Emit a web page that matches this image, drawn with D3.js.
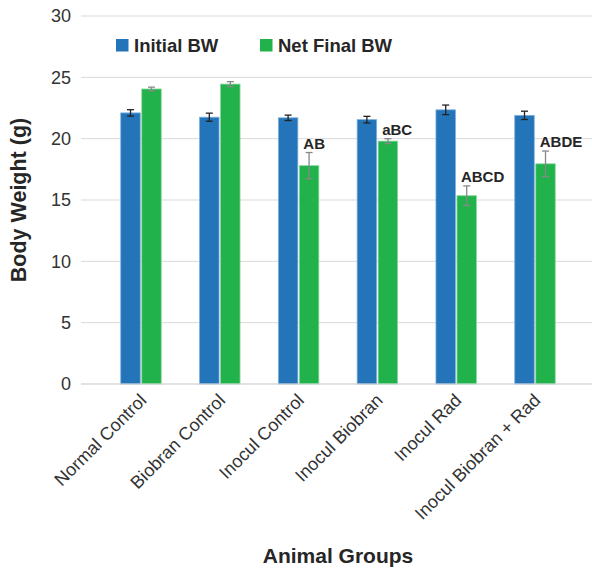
<!DOCTYPE html>
<html>
<head>
<meta charset="utf-8">
<script src="https://cdn.jsdelivr.net/npm/d3@7"></script>
<style>
  body { margin: 0; background: #fff; }
  text { font-family: "Liberation Sans", Arial, sans-serif; }
</style>
</head>
<body>
<div id="app"></div>
<script>
// data
const groups = ['Normal Control', 'Biobran Control', 'Inocul Control', 'Inocul Biobran', 'Inocul Rad', 'Inocul Biobran + Rad'];
const seriesNames = ['Initial BW', 'Net Final BW'];
const initialBW = [22.1, 21.75, 21.7, 21.55, 22.35, 21.9];
const initialErr = [0.26, 0.33, 0.22, 0.27, 0.39, 0.34];
const finalBW = [24.05, 24.45, 17.8, 19.8, 15.35, 17.95];
const finalErr = [0.15, 0.2, 1.07, 0.2, 0.8, 1.04];
const sigLabels = ['', '', 'AB', 'aBC', 'ABCD', 'ABDE'];
const yTicks = [0, 5, 10, 15, 20, 25, 30];

const width = 592, height = 571;
const colors = ['#2474b9', '#22b24c'];
const errColors = ['#222', '#888'];

const svg = d3.select('#app').append('svg')
  .attr('width', width)
  .attr('height', height);

const x = d3.scaleBand().domain(groups).range([101.6, 574.4]);
const y = d3.scaleLinear().domain([0, 30]).range([384, 16]);

// gridlines
svg.append('g')
  .selectAll('line')
  .data(yTicks)
  .join('line')
  .attr('x1', 81).attr('x2', 592)
  .attr('y1', d => y(d)).attr('y2', d => y(d))
  .attr('stroke', '#d9d9d9')
  .attr('stroke-width', 1);

// y axis labels
const yAxis = svg.append('g')
  .attr('transform', 'translate(81,0)')
  .call(d3.axisLeft(y).tickValues(yTicks).tickSize(0).tickPadding(10));
yAxis.select('.domain').remove();
yAxis.selectAll('text')
  .attr('font-size', 18)
  .attr('fill', '#333');

// bars
const barW = 19.5, gap = 1.5;
const rows = groups.map((g, i) => ({
  group: g,
  vals: [
    { s: 0, v: initialBW[i], e: initialErr[i] },
    { s: 1, v: finalBW[i], e: finalErr[i] }
  ],
  label: sigLabels[i]
}));

const gGroup = svg.append('g')
  .selectAll('g')
  .data(rows)
  .join('g')
  .attr('transform', d => `translate(${x(d.group) + x.bandwidth() / 2},0)`);

const bx = s => s === 0 ? -barW - gap / 2 : gap / 2;

gGroup.selectAll('rect')
  .data(d => d.vals)
  .join('rect')
  .attr('x', d => bx(d.s))
  .attr('y', d => y(d.v))
  .attr('width', barW)
  .attr('height', d => y(0) - y(d.v))
  .attr('fill', d => colors[d.s])
  .attr('stroke', d => d.s === 0 ? '#7fb0dc' : '#8ad7a0')
  .attr('stroke-width', 0.8);

// error bars
const eb = gGroup.selectAll('g.err')
  .data(d => d.vals)
  .join('g')
  .attr('class', 'err')
  .attr('stroke', d => errColors[d.s])
  .attr('stroke-width', 1.3);
eb.append('line')
  .attr('x1', d => bx(d.s) + barW / 2).attr('x2', d => bx(d.s) + barW / 2)
  .attr('y1', d => y(d.v + d.e)).attr('y2', d => y(d.v - d.e));
eb.append('line')
  .attr('x1', d => bx(d.s) + barW / 2 - 3.5).attr('x2', d => bx(d.s) + barW / 2 + 3.5)
  .attr('y1', d => y(d.v + d.e)).attr('y2', d => y(d.v + d.e));
eb.append('line')
  .attr('x1', d => bx(d.s) + barW / 2 - 3.5).attr('x2', d => bx(d.s) + barW / 2 + 3.5)
  .attr('y1', d => y(d.v - d.e)).attr('y2', d => y(d.v - d.e));

// significance labels
gGroup.append('text')
  .text(d => d.label)
  .attr('x', bx(1) + 4)
  .attr('y', d => y(d.vals[1].v + d.vals[1].e) - 4)
  .attr('font-size', 15)
  .attr('font-weight', 'bold')
  .attr('fill', '#262626');

// x axis baseline
svg.append('line')
  .attr('x1', 81).attr('x2', 592)
  .attr('y1', y(0)).attr('y2', y(0))
  .attr('stroke', '#d9d9d9');

// x labels
svg.append('g')
  .selectAll('text')
  .data(groups)
  .join('text')
  .text(d => d)
  .attr('transform', d => `translate(${x(d) + x.bandwidth() / 2 + 2},${y(0) + 13}) rotate(-45)`)
  .attr('text-anchor', 'end')
  .attr('dy', '0.35em')
  .attr('font-size', 18)
  .attr('fill', '#333');

// legend
const legend = svg.append('g');
const legendX = [116, 260];
seriesNames.forEach((name, i) => {
  legend.append('rect')
    .attr('x', legendX[i]).attr('y', 39)
    .attr('width', 12.5).attr('height', 12.5)
    .attr('fill', colors[i]);
  legend.append('text')
    .text(name)
    .attr('x', legendX[i] + 18).attr('y', 51.5)
    .attr('font-size', 18.5)
    .attr('font-weight', 'bold')
    .attr('fill', '#262626');
});

// axis titles
svg.append('text')
  .text('Animal Groups')
  .attr('x', 338).attr('y', 563)
  .attr('text-anchor', 'middle')
  .attr('font-size', 21)
  .attr('font-weight', 'bold')
  .attr('fill', '#262626');

svg.append('text')
  .text('Body Weight (g)')
  .attr('transform', 'translate(26,200) rotate(-90)')
  .attr('text-anchor', 'middle')
  .attr('font-size', 21.5)
  .attr('font-weight', 'bold')
  .attr('fill', '#262626');
</script>
</body>
</html>
